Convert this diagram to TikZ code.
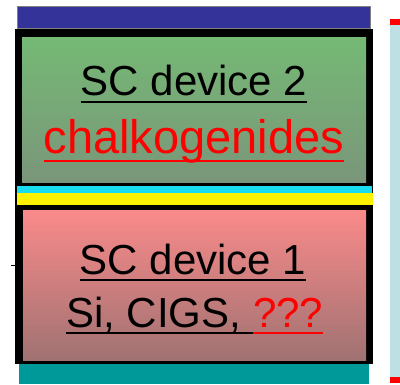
\documentclass[tikz,border=0pt]{standalone}
\usepackage{fontspec}
\setmainfont{Liberation Sans}
\definecolor{navy}{HTML}{333399}
\definecolor{cellgreenA}{HTML}{75B975}
\definecolor{cellgreenB}{HTML}{7A967A}
\definecolor{cellpinkA}{HTML}{FA8A8A}
\definecolor{cellpinkB}{HTML}{A07272}
\definecolor{tco}{HTML}{1ADCF0}
\definecolor{substrate}{HTML}{009999}
\definecolor{panel}{HTML}{BEE0E4}
\begin{document}
\begin{tikzpicture}[x=1pt,y=-1pt,
  label/.style={inner sep=0pt,anchor=base,font=\fontsize{42}{48}\selectfont},
  uline/.style={line width=2.2pt}]
  \useasboundingbox (0,0) rectangle (400,384);
  % contact on top
  \fill[navy,draw=gray,line width=0.6pt] (17,6) rectangle (370,28);
  % frame of both cells
  \fill[black] (15,29) rectangle (373,364);
  \shade[top color=cellgreenA,bottom color=cellgreenB] (22,37) rectangle (366,182);
  \fill[tco] (17,186) rectangle (372,193);
  \fill[yellow] (17,193) rectangle (373,205);
  \shade[top color=cellpinkA,bottom color=cellpinkB] (23,210) rectangle (366,360);
  \fill[substrate] (19,364) rectangle (369,384);
  % panel on the right
  \fill[panel] (390,25) rectangle (400,377);
  \fill[red] (390,19) rectangle (400,25);
  \fill[red] (390,377) rectangle (400,383);
  \draw[line width=1pt] (11,265) -- (15,265);
  % texts
  \node[label] (dev2) at (194,95) {SC device 2};
  \node[label,red,font=\fontsize{47}{54}\selectfont] (chalk) at (194,153) {chalkogenides};
  \node[label] (dev1) at (193,274) {SC device 1};
  \node[label,anchor=base east] (mat) at (253,327) {Si, CIGS,\kern0.278em};
  \node[label,anchor=base west,red] (unk) at (mat.base east) {???};
  \draw[uline] ([yshift=-7pt]dev2.base west) -- ([yshift=-7pt]dev2.base east);
  \draw[uline,red] ([yshift=-8pt]chalk.base west) -- ([yshift=-8pt]chalk.base east);
  \draw[uline] ([yshift=-6pt]dev1.base west) -- ([yshift=-6pt]dev1.base east);
  \draw[uline] ([yshift=-6pt]mat.base west) -- ([yshift=-6pt]mat.base east);
  \draw[uline,red] ([yshift=-6pt]unk.base west) -- ([yshift=-6pt]unk.base east);
\end{tikzpicture}
\end{document}
